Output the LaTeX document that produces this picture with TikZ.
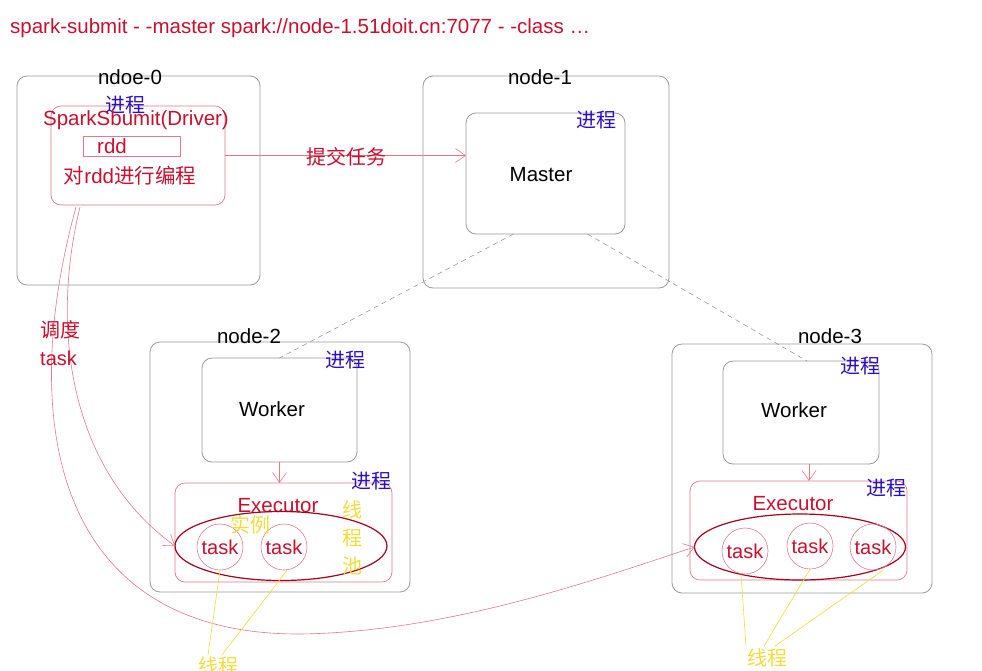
\documentclass[tikz,border=0pt]{standalone}
\usepackage{fontspec}
\setmainfont{Liberation Sans}
\newfontfamily\cjk{Noto Sans CJK SC}
\usetikzlibrary{shapes.geometric,arrows.meta,calc}
\definecolor{tred}{HTML}{C8102E}
\definecolor{pinkline}{HTML}{E07A8C}
\definecolor{tblue}{HTML}{2A0FBF}
\definecolor{tyellow}{HTML}{F2DC3C}
\definecolor{boxgray}{HTML}{9A9A9A}
\definecolor{ellred}{HTML}{A3001E}
\tikzset{
  hostbox/.style={draw=boxgray, line width=0.8pt, rounded corners=10pt, anchor=north west, inner sep=0pt, outer sep=0pt},
  pinkbox/.style={draw=pinkline, line width=0.7pt, rounded corners=10pt, anchor=north west, inner sep=0pt, outer sep=0pt},
  txt/.style={font=\fontsize{20.5}{22}\selectfont, inner sep=0pt},
  cn/.style={font=\cjk\fontsize{20}{22}\selectfont, inner sep=0pt},
  arr/.style={draw=pinkline, line width=0.6pt, -{Straight Barb[length=10pt,width=14pt]}},
  dashline/.style={draw=boxgray, line width=0.6pt, dash pattern=on 5pt off 4pt},
  yline/.style={draw=tyellow, line width=0.6pt},
  taskc/.style={circle, draw=pinkline, line width=0.6pt, minimum size=46pt, inner sep=0pt, text=tred, font=\fontsize{20}{22}\selectfont},
  pool/.style={ellipse, draw=ellred, line width=1.2pt, inner sep=0pt, outer sep=0pt}
}
\begin{document}
\begin{tikzpicture}[x=1pt,y=-1pt]
\useasboundingbox (0,0) rectangle (982,670);

% title
\node[txt, text=tred, anchor=west] (title) at (10,28) {spark-submit - -master spark://node-1.51doit.cn:7077 - -class \dots};

% node-0
\node[hostbox, minimum width=243pt, minimum height=209pt] (n0) at (17,76) {};
\node[txt] (n0l) at (130,77) {ndoe-0};
\node[pinkbox, minimum width=174pt, minimum height=99pt] (driver) at (51,106) {};
\node[pinkbox, rounded corners=0pt, minimum width=97pt, minimum height=20pt] (rddbox) at (83,136) {};
\node[cn, text=tblue] (p0) at (125,105) {进程};
\node[txt, text=tred] (drvl) at (136,120) {SparkSbumit(Driver)};
\node[txt, text=tred] (rddl) at (112,146) {rdd};
\node[txt, text=tred] (prog) at (130,176) {{\cjk 对}rdd{\cjk 进行编程}};

% node-1
\node[hostbox, minimum width=246pt, minimum height=212pt] (n1) at (423,76) {};
\node[txt] (n1l) at (540,77) {node-1};
\node[hostbox, minimum width=159pt, minimum height=121pt] (master) at (466,113) {};
\node[cn, text=tblue] (p1) at (596,120) {进程};
\node[txt] (masterl) at (541,175) {Master};

% submit arrow
\draw[arr] (driver.east) -- (driver.east -| master.west);
\node[cn, text=tred] (submit) at (346,157) {提交任务};

% node-2
\node[hostbox, minimum width=260pt, minimum height=250pt] (n2) at (150,342) {};
\node[txt] (n2l) at (249,336) {node-2};
\node[hostbox, minimum width=155pt, minimum height=104pt] (w2) at (202,358) {};
\node[txt] (w2l) at (272,409) {Worker};
\node[cn, text=tblue] (p2) at (345,360) {进程};
\node[pinkbox, minimum width=217pt, minimum height=99pt] (e2) at (175,483) {};
\node[cn, text=tblue] (p2e) at (371,481) {进程};
\node[txt, text=tred] (e2l) at (278,506) {Executor};
\node[pool, minimum width=212pt, minimum height=69pt] (pool2) at (281,546) {};
\node[taskc] (t1) at (220,547) {task};
\node[taskc] (t2) at (284,547) {task};
\node[cn, text=tyellow] (inst) at (250,525) {实例};
\node[cn, text=tyellow, align=center, font=\cjk\fontsize{20}{28}\selectfont] (tp) at (352,538) {线\\程\\池};

% node-3
\node[hostbox, minimum width=260pt, minimum height=249pt] (n3) at (672,344) {};
\node[txt] (n3l) at (830,336) {node-3};
\node[hostbox, minimum width=156pt, minimum height=103pt] (w3) at (723,361) {};
\node[txt] (w3l) at (794,410) {Worker};
\node[cn, text=tblue] (p3) at (860,366) {进程};
\node[pinkbox, minimum width=217pt, minimum height=99pt] (e3) at (690,481) {};
\node[cn, text=tblue] (p3e) at (886,488) {进程};
\node[txt, text=tred] (e3l) at (793,504) {Executor};
\node[pool, minimum width=211pt, minimum height=66pt] (pool3) at (800,547) {};
\node[taskc] (t4) at (745,551) {task};
\node[taskc] (t5) at (810,546) {task};
\node[taskc] (t6) at (873,547) {task};

% dashed master-worker links
\draw[dashline] ([xshift=-32pt]master.south) -- (w2.north);
\draw[dashline] ([xshift=42pt]master.south) -- ([xshift=6pt]w3.north);

% worker -> executor
\draw[arr] (w2.south) -- (w2.south |- e2.north);
\draw[arr] ([xshift=8pt]w3.south) -- ([xshift=8pt]w3.south |- e3.north);

% schedule curves
\coordinate (s1) at (80,207);
\coordinate (s2) at (76,207);
\draw[arr] (s1) .. controls (50,330) and (70,470) .. (pool2.west);
\draw[arr] (s2) .. controls (15,430) and (60,635) .. (300,634) .. controls (450,632) and (600,578) .. (pool3.west);
\node[cn, text=tred, align=left, anchor=north west, font=\cjk\fontsize{20}{28}\selectfont] (sched) at (40,320) {调度\\{\fontspec{Liberation Sans}task}};

% thread labels
\node[cn, text=tyellow] (thr2) at (218,666) {线程};
\node[cn, text=tyellow] (thr3) at (767,658) {线程};
\draw[yline] (t1.south) -- (208,655);
\draw[yline] ([xshift=3pt]t2.south) -- (222,655);
\draw[yline] ([xshift=-4pt]t4.south) -- (746,646);
\draw[yline] (t5.south) -- (764,646);
\draw[yline] ([xshift=10pt]t6.south) -- (775,646);
\end{tikzpicture}
\end{document}
